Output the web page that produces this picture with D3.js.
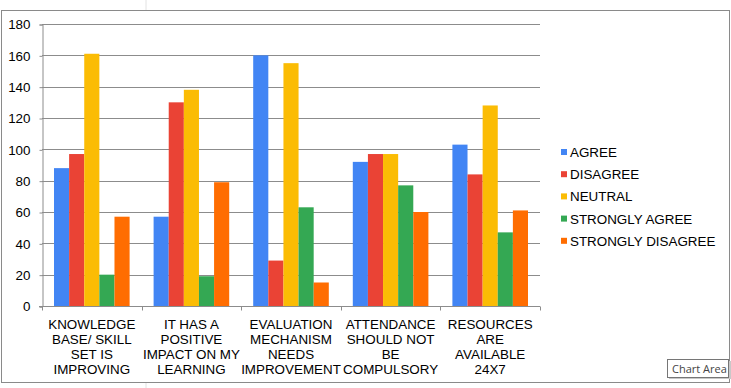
<!DOCTYPE html>
<html>
<head>
<meta charset="utf-8">
<script src="https://cdn.jsdelivr.net/npm/d3@7"></script>
<style>
  body { margin: 0; background: #fff; }
  svg { display: block; font-family: "Liberation Sans", Arial, sans-serif; }
</style>
</head>
<body>
<div id="chart"></div>
<script>
// survey responses per statement
const categories = [
    ["KNOWLEDGE", "BASE/ SKILL", "SET IS", "IMPROVING"],
    ["IT HAS A", "POSITIVE", "IMPACT ON MY", "LEARNING"],
    ["EVALUATION", "MECHANISM", "NEEDS", "IMPROVEMENT"],
    ["ATTENDANCE", "SHOULD NOT", "BE", "COMPULSORY"],
    ["RESOURCES", "ARE", "AVAILABLE", "24X7"]
];
const seriesNames = ["AGREE", "DISAGREE", "NEUTRAL", "STRONGLY AGREE", "STRONGLY DISAGREE"];
const agree = [88, 57, 160, 92, 103];
const disagree = [97, 130, 29, 97, 84];
const neutral = [161, 138, 155, 97, 128];
const stronglyAgree = [20, 19, 63, 77, 47];
const stronglyDisagree = [57, 79, 15, 60, 61];
const yTicks = [0, 20, 40, 60, 80, 100, 120, 140, 160, 180];

const series = [agree, disagree, neutral, stronglyAgree, stronglyDisagree];
const colors = ["#4285F4", "#EA4335", "#FBBC04", "#34A853", "#FF6D01"];

const width = 731;
const height = 388;
const plotLeft = 42;
const plotRight = 540;
const plotTop = 24;
const plotBottom = 306;
const fontSize = 13.4;

const svg = d3.select("#chart")
    .append("svg")
    .attr("width", width)
    .attr("height", height);

// faint sheet gridline behind the chart
svg.append("line")
    .attr("x1", 146).attr("x2", 146)
    .attr("y1", 0).attr("y2", height)
    .attr("stroke", "#e2e2e2");

// chart area box
svg.append("rect")
    .attr("x", 1.5).attr("y", 10.5)
    .attr("width", 728).attr("height", 372)
    .attr("fill", "#fff")
    .attr("stroke", "#8a8a8a");

const x0 = d3.scaleBand()
    .domain(d3.range(categories.length))
    .range([plotLeft, plotRight]);

const x1 = d3.scaleBand()
    .domain(d3.range(series.length))
    .range([12, x0.bandwidth() - 12]);

const y = d3.scaleLinear()
    .domain([0, 180])
    .range([plotBottom, plotTop]);

// gridlines
svg.append("g")
    .selectAll("line")
    .data(yTicks.slice(1))
    .enter().append("line")
    .attr("x1", plotLeft)
    .attr("x2", plotRight)
    .attr("y1", d => Math.round(y(d)) + 0.5)
    .attr("y2", d => Math.round(y(d)) + 0.5)
    .attr("stroke", "#8c8c8c");

// y axis
const yAxis = svg.append("g")
    .attr("transform", `translate(${plotLeft + 0.5},0.5)`)
    .call(d3.axisLeft(y).tickValues(yTicks).tickSize(3).tickPadding(9)
        .tickFormat(d3.format("d")));
yAxis.select(".domain").attr("stroke", "#8c8c8c");
yAxis.selectAll(".tick line").attr("stroke", "#8c8c8c");
yAxis.selectAll(".tick text")
    .attr("font-size", fontSize)
    .attr("font-family", "Liberation Sans, Arial, sans-serif")
    .attr("fill", "#000");

// bars
svg.append("g")
    .selectAll("g")
    .data(series)
    .enter().append("g")
    .attr("fill", (d, i) => colors[i])
    .each(function (vals, si) {
        d3.select(this).selectAll("rect")
            .data(vals)
            .enter().append("rect")
            .attr("x", (v, ci) => x0(ci) + x1(si))
            .attr("width", x1.bandwidth())
            .attr("y", v => y(v))
            .attr("height", v => plotBottom - y(v));
    });

// x axis
const xAxis = svg.append("g")
    .attr("transform", `translate(0,${plotBottom + 0.5})`);
xAxis.append("line")
    .attr("x1", plotLeft - 3).attr("x2", plotRight)
    .attr("stroke", "#8c8c8c");
xAxis.selectAll(".sep")
    .data(d3.range(categories.length + 1))
    .enter().append("line")
    .attr("class", "sep")
    .attr("x1", i => Math.round(plotLeft + i * x0.bandwidth()) + 0.5)
    .attr("x2", i => Math.round(plotLeft + i * x0.bandwidth()) + 0.5)
    .attr("y1", 0).attr("y2", 4)
    .attr("stroke", "#8c8c8c");

xAxis.selectAll("text")
    .data(categories)
    .enter().append("text")
    .attr("x", (d, i) => x0(i) + x0.bandwidth() / 2)
    .attr("y", 22)
    .attr("text-anchor", "middle")
    .attr("font-size", fontSize)
    .attr("fill", "#000")
    .each(function (lines) {
        d3.select(this).selectAll("tspan")
            .data(lines)
            .enter().append("tspan")
            .attr("x", d3.select(this).attr("x"))
            .attr("dy", (l, k) => k === 0 ? 0 : 15)
            .text(l => l);
    });

// legend
const legend = svg.append("g")
    .selectAll("g")
    .data(seriesNames)
    .enter().append("g")
    .attr("transform", (d, i) => `translate(561,${152 + i * 22.2})`);
legend.append("rect")
    .attr("x", 0).attr("y", -3)
    .attr("width", 6).attr("height", 6)
    .attr("fill", (d, i) => colors[i]);
legend.append("text")
    .attr("x", 9).attr("y", 5)
    .attr("font-size", fontSize)
    .attr("fill", "#000")
    .text(d => d);

// "Chart Area" tooltip
const tip = svg.append("g").attr("transform", "translate(667,359)");
tip.append("rect")
    .attr("x", 2).attr("y", 2)
    .attr("width", 62).attr("height", 18)
    .attr("fill", "#c8c8c8");
tip.append("rect")
    .attr("x", 0.5).attr("y", 0.5)
    .attr("width", 61).attr("height", 18)
    .attr("fill", "#fff")
    .attr("stroke", "#767676");
tip.append("text")
    .attr("x", 5).attr("y", 13.5)
    .attr("font-family", "Open Sans, sans-serif")
    .attr("font-size", 11)
    .attr("fill", "#444")
    .text("Chart Area");
</script>
</body>
</html>
